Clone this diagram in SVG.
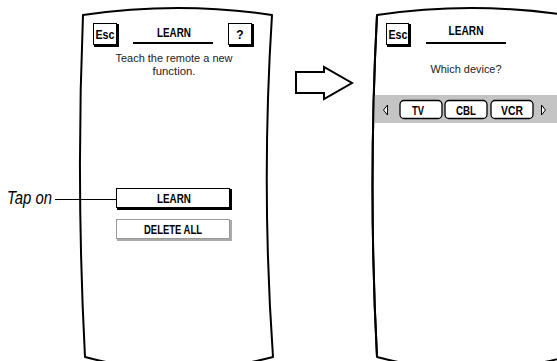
<svg xmlns="http://www.w3.org/2000/svg" width="557" height="361" viewBox="0 0 557 361">
<style>
.outline{fill:#fff;stroke:#000;stroke-width:2;stroke-linejoin:round}
.t{font-family:"Liberation Sans Narrow","Liberation Sans",Arial,sans-serif;fill:#000}
.b{font-weight:bold;font-size:12px}
.r{font-size:11px;fill:#222}
.box{fill:#fff;stroke:#000;stroke-width:1}
.sh{fill:none;stroke:#000;stroke-width:2}
.gbox{fill:#fff;stroke:#999;stroke-width:1}
.gsh{fill:none;stroke:#aaa;stroke-width:2}
</style>
<rect width="557" height="361" fill="#fff"/>
<g id="remote-left">
<path class="outline" d="M83,15 Q178,1 272,15 Q261,186 273,357 Q178,382 85,357 Q76,186 83,15 Z"/>
<rect class="box" x="93.5" y="23.5" width="23" height="21"/>
<path class="sh" d="M118,24 V46 H94"/>
<text class="t b" x="105" y="39" text-anchor="middle" textLength="19" lengthAdjust="spacingAndGlyphs">Esc</text>
<text class="t b" x="174" y="37" text-anchor="middle" textLength="34" lengthAdjust="spacingAndGlyphs">LEARN</text>
<line x1="133" y1="43" x2="213" y2="43" stroke="#000" stroke-width="2"/>
<rect class="box" x="228.5" y="23.5" width="23" height="21"/>
<path class="sh" d="M253,24 V46 H229"/>
<text class="t b" x="240" y="39" text-anchor="middle">?</text>
<text class="t r" x="174" y="62" text-anchor="middle" textLength="117" lengthAdjust="spacingAndGlyphs">Teach the remote a new</text>
<text class="t r" x="174" y="75" text-anchor="middle" textLength="43" lengthAdjust="spacingAndGlyphs">function.</text>
</g>
<g id="btn-learn">
<rect class="box" x="116.5" y="188.5" width="113" height="19"/>
<path class="sh" d="M231,189 V209 H117"/>
<text class="t b" x="174" y="203" text-anchor="middle" textLength="34" lengthAdjust="spacingAndGlyphs">LEARN</text>
</g>
<g id="btn-delete">
<rect class="gbox" x="116.5" y="219.5" width="113" height="19"/>
<path class="gsh" d="M231,220 V240 H117"/>
<text class="t b" x="173" y="234" text-anchor="middle" textLength="58" lengthAdjust="spacingAndGlyphs">DELETE ALL</text>
</g>
<g id="tap-label">
<text class="t" x="7" y="204" font-size="18" font-style="italic" textLength="45" lengthAdjust="spacingAndGlyphs">Tap on</text>
</g>
<g id="arrow">
<polygon points="296,72 324,72 324,67 352,83 324,99 324,93 296,93" fill="#fff" stroke="#000" stroke-width="2" stroke-linejoin="miter"/>
</g>
<g id="remote-right">
<path class="outline" d="M377,15 Q471,1 566,15 L566,357 Q471,382 377,357 Q368,186 377,15 Z"/>
<rect x="373" y="95" width="184" height="28" fill="#c4c4c4"/>
<path fill="none" stroke="#000" stroke-width="2" d="M377,357 Q368,186 377,15"/>
<rect class="box" x="386.5" y="23.5" width="22" height="21"/>
<path class="sh" d="M410,24 V46 H387"/>
<text class="t b" x="398" y="39" text-anchor="middle" textLength="19" lengthAdjust="spacingAndGlyphs">Esc</text>
<text class="t b" x="466" y="35" text-anchor="middle" textLength="35" lengthAdjust="spacingAndGlyphs">LEARN</text>
<line x1="426" y1="43" x2="506" y2="43" stroke="#000" stroke-width="2"/>
<text class="t r" x="466" y="73" text-anchor="middle" textLength="71" lengthAdjust="spacingAndGlyphs">Which device?</text>
</g>
<g id="device-tv">
<rect x="400" y="100.5" width="42" height="18" rx="4" fill="#fff" stroke="#000" stroke-width="1.3"/>
<text class="t b" x="418" y="115" text-anchor="middle" textLength="12" lengthAdjust="spacingAndGlyphs">TV</text>
</g>
<g id="device-cbl">
<rect x="445" y="100.5" width="42" height="18" rx="4" fill="#fff" stroke="#000" stroke-width="1.3"/>
<text class="t b" x="466" y="115" text-anchor="middle" textLength="20" lengthAdjust="spacingAndGlyphs">CBL</text>
</g>
<g id="device-vcr">
<rect x="491" y="100.5" width="42" height="18" rx="4" fill="#fff" stroke="#000" stroke-width="1.3"/>
<text class="t b" x="512" y="115" text-anchor="middle" textLength="22" lengthAdjust="spacingAndGlyphs">VCR</text>
</g>
<g id="scroll-left">
<polygon points="387.5,105 383.5,110 387.5,115" fill="#fff" stroke="#000" stroke-width="1"/>
</g>
<g id="scroll-right">
<polygon points="541.5,105 545.5,110 541.5,115" fill="#fff" stroke="#000" stroke-width="1"/>
</g>
<g id="connectors">
<line x1="55" y1="199.5" x2="116" y2="199.5" stroke="#000" stroke-width="1"/>
</g>
</svg>
